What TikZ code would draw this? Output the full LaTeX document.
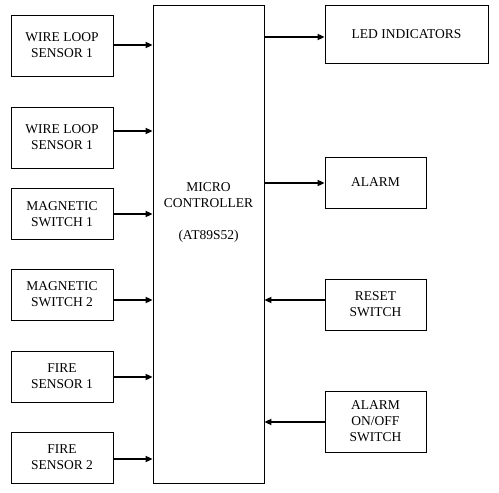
\documentclass[tikz,border=0pt]{standalone}
\usepackage{fontspec}
\setmainfont{Liberation Serif}
\usetikzlibrary{arrows.meta}

\begin{document}
\begin{tikzpicture}[x=1pt,y=-1pt,>={Triangle[length=7pt,width=6pt]},
    block/.style={draw,line width=0.8pt,align=center,inner sep=0pt,
      font=\fontsize{13.5}{16}\selectfont},
    small/.style={block,minimum width=102pt,minimum height=51pt},
    tall/.style={block,minimum width=102pt,minimum height=61pt},
    link/.style={->,line width=1.8pt}]
    \useasboundingbox (0,0) rectangle (499,493);
    % sensors and switches
    \node[tall]  (wl1) at (62,45.5)  {WIRE LOOP\\SENSOR 1};
    \node[tall]  (wl2) at (62,137.5) {WIRE LOOP\\SENSOR 1};
    \node[small] (ms1) at (62,214)   {MAGNETIC\\SWITCH 1};
    \node[small] (ms2) at (62,294.5) {MAGNETIC\\SWITCH 2};
    \node[small] (fs1) at (62,376.5) {FIRE\\SENSOR 1};
    \node[small] (fs2) at (62,457.5) {FIRE\\SENSOR 2};
    % controller
    \node[block,minimum width=111pt,minimum height=478pt] (mcu) at (208.5,244) {};
    \node[block,draw=none] (mcutxt) at (208.5,212)
      {MICRO\\CONTROLLER\\[\baselineskip](AT89S52)};
    % outputs
    \node[block,minimum width=163pt,minimum height=58pt] (led) at (406.5,34)
      {LED INDICATORS};
    \node[block,minimum width=101pt,minimum height=51pt] (alarm) at (375.5,182.5)
      {ALARM};
    \node[block,minimum width=101pt,minimum height=51pt] (reset) at (375.5,304.5)
      {RESET\\SWITCH};
    \node[block,minimum width=101pt,minimum height=61pt] (onoff) at (375.5,421.5)
      {ALARM\\ON/OFF\\SWITCH};
    % where the arrows meet the boxes
    \coordinate (wl1out) at ([yshift=0.5pt]wl1.east);
    \coordinate (wl2out) at ([yshift=6.5pt]wl2.east);
    \coordinate (ms2out) at ([yshift=-5.5pt]ms2.east);
    \coordinate (fs1out) at ([yshift=-0.5pt]fs1.east);
    \coordinate (fs2out) at ([yshift=-1.5pt]fs2.east);
    \coordinate (ledin) at ([yshift=-3pt]led.west);
    \coordinate (alarmin) at ([yshift=-0.5pt]alarm.west);
    \coordinate (resetout) at ([yshift=4.5pt]reset.west);
    \coordinate (onoffout) at ([yshift=-0.5pt]onoff.west);
    \draw[link] (wl1out) -- (wl1out -| mcu.west);
    \draw[link] (wl2out) -- (wl2out -| mcu.west);
    \draw[link] (ms1.east) -- (ms1.east -| mcu.west);
    \draw[link] (ms2out) -- (ms2out -| mcu.west);
    \draw[link] (fs1out) -- (fs1out -| mcu.west);
    \draw[link] (fs2out) -- (fs2out -| mcu.west);
    \draw[link,line width=2.6pt] (ledin -| mcu.east) -- (ledin);
    \draw[link] (alarmin -| mcu.east) -- (alarmin);
    \draw[link] (resetout) -- (resetout -| mcu.east);
    \draw[link] (onoffout) -- (onoffout -| mcu.east);
\end{tikzpicture}
\end{document}
